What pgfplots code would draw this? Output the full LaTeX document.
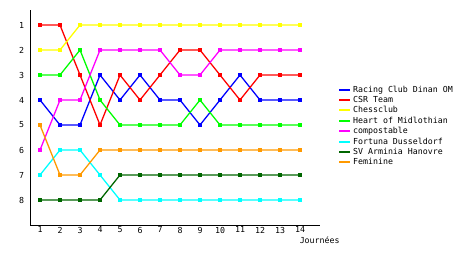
\documentclass[border=0pt]{standalone}
\usepackage{pgfplots}
\pgfplotsset{compat=1.18}
\usepackage{fontspec}
\setmainfont{DejaVu Sans Mono}
\definecolor{cblue}{RGB}{0,0,255}
\definecolor{cred}{RGB}{255,0,0}
\definecolor{cyel}{RGB}{255,255,0}
\definecolor{cgreen}{RGB}{0,255,0}
\definecolor{cmag}{RGB}{255,0,255}
\definecolor{ccyan}{RGB}{0,255,255}
\definecolor{cdkgreen}{RGB}{0,102,0}
\definecolor{corange}{RGB}{255,153,0}
\begin{document}
\fontsize{8.3}{10}\selectfont
\begin{tikzpicture}
\useasboundingbox (0,0) rectangle (460bp,255bp);
\begin{axis}[
  at={(30bp,30bp)}, anchor=south west,
  scale only axis, width=290bp, height=215bp,
  xmin=0.5, xmax=15, ymin=0.4, ymax=9,
  y dir=reverse,
  axis x line*=bottom, axis y line*=left,
  axis line style={-, black, line width=0.8bp},
  xtick={1,...,14}, ytick={1,...,8},
  major tick length=0pt,
  tick label style={font=\fontsize{8.3}{10}\selectfont},
  /pgf/number format/assume math mode=true,
  xticklabel style={yshift=1bp},
  yticklabel style={xshift=-3bp},
  xlabel={Journées},
  xlabel style={at={(axis description cs:0.92,-0.07)}, anchor=west, font=\fontsize{8.3}{10}\selectfont},
  legend style={at={(axis description cs:1.062,0.658)}, anchor=north west, draw=none, fill=none,
    font=\fontsize{8.3}{10}\selectfont, row sep=-1.1bp, inner sep=0pt, cells={anchor=west}},
  legend image code/.code={\draw[#1, line width=2bp] (0bp,0bp) -- (11bp,0bp);},
  every axis plot/.append style={line width=1.3bp, mark=square*, mark size=1.3bp},
]
\addplot[cblue, mark options={fill=cblue}] coordinates {(1,4)(2,5)(3,5)(4,3)(5,4)(6,3)(7,4)(8,4)(9,5)(10,4)(11,3)(12,4)(13,4)(14,4)};
\addlegendentry{Racing Club Dinan OM}
\addplot[cred, mark options={fill=cred}] coordinates {(1,1)(2,1)(3,3)(4,5)(5,3)(6,4)(7,3)(8,2)(9,2)(10,3)(11,4)(12,3)(13,3)(14,3)};
\addlegendentry{CSR Team}
\addplot[cyel, mark options={fill=cyel}] coordinates {(1,2)(2,2)(3,1)(4,1)(5,1)(6,1)(7,1)(8,1)(9,1)(10,1)(11,1)(12,1)(13,1)(14,1)};
\addlegendentry{Chessclub}
\addplot[cgreen, mark options={fill=cgreen}] coordinates {(1,3)(2,3)(3,2)(4,4)(5,5)(6,5)(7,5)(8,5)(9,4)(10,5)(11,5)(12,5)(13,5)(14,5)};
\addlegendentry{Heart of Midlothian}
\addplot[cmag, mark options={fill=cmag}] coordinates {(1,6)(2,4)(3,4)(4,2)(5,2)(6,2)(7,2)(8,3)(9,3)(10,2)(11,2)(12,2)(13,2)(14,2)};
\addlegendentry{compostable}
\addplot[ccyan, mark options={fill=ccyan}] coordinates {(1,7)(2,6)(3,6)(4,7)(5,8)(6,8)(7,8)(8,8)(9,8)(10,8)(11,8)(12,8)(13,8)(14,8)};
\addlegendentry{Fortuna Dusseldorf}
\addplot[cdkgreen, mark options={fill=cdkgreen}] coordinates {(1,8)(2,8)(3,8)(4,8)(5,7)(6,7)(7,7)(8,7)(9,7)(10,7)(11,7)(12,7)(13,7)(14,7)};
\addlegendentry{SV Arminia Hanovre}
\addplot[corange, mark options={fill=corange}] coordinates {(1,5)(2,7)(3,7)(4,6)(5,6)(6,6)(7,6)(8,6)(9,6)(10,6)(11,6)(12,6)(13,6)(14,6)};
\addlegendentry{Feminine}
\end{axis}
\end{tikzpicture}
\end{document}
